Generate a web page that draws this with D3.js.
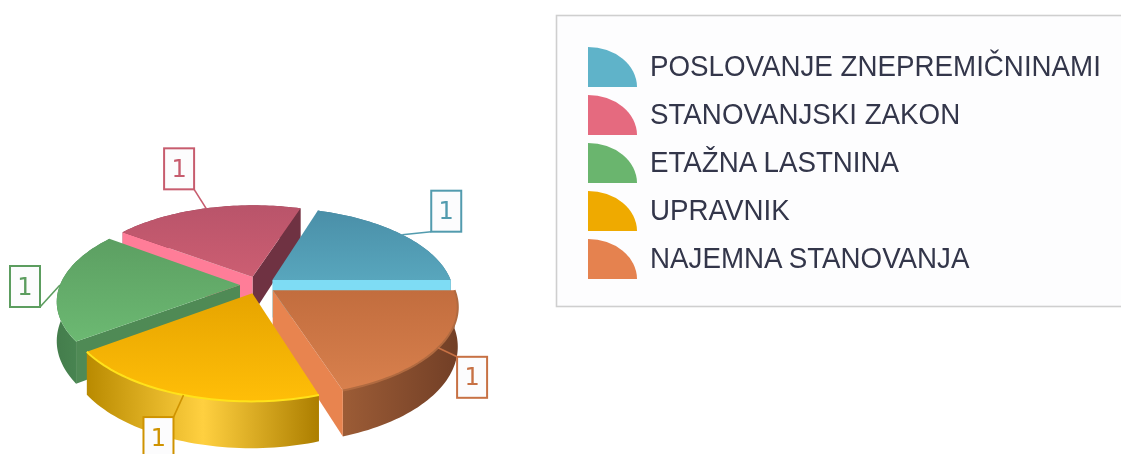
<!DOCTYPE html>
<html><head><meta charset="utf-8">
<script src="https://cdn.jsdelivr.net/npm/d3@7"></script>
<style>html,body{margin:0;background:#fff;overflow:hidden}svg{display:block;filter:blur(.55px)}</style>
</head><body><svg id="c" width="1121" height="454"></svg>
<script>
const categories=["POSLOVANJE ZNEPREMIČNINAMI","STANOVANJSKI ZAKON","ETAŽNA LASTNINA","UPRAVNIK","NAJEMNA STANOVANJA"];
const values=[1,1,1,1,1];
const baseColors=["#5fb3c9","#e56a7f","#6ab56e","#efaa00","#e5824f"];
const topStart=["#4a8fa8","#b9546a","#5c9f62","#e6a400","#c26d3e"];
const topEnd=["#58a6bd","#cc5e72","#6cb972","#ffbe08","#d8804d"];
const cutStart=["#7edcf4","#6f3242",null,null,"#e8844f"];
const cutEnd=[null,"#ff7d98","#4f8a55",null,null];
const wallStops=[["#3f7f95","#3f7f95"],["#8c3f50","#8c3f50"],["#447d4c","#4f9058"],["#b98a00","#ffd040","#ac7e00"],["#9c5c36","#723f26"]];
const rimColors=[null,null,null,"#ffe21a","#b06a40"];
const labelOffsets=[[29,-44],[-42,-60],[-50,-19],[-40,22],[19,9]];

const svg=d3.select("#c"), defs=svg.append("defs");
const cx=258, cy=285, R=180, explode=18, depth=38, persp=0.00095, squash=0.48;
const project=(X,Y,Z=0)=>{const s=1/(1-persp*Y);return [cx+X*s, cy+squash*Y*s+Z*s];};
const line=d3.line();
const arcs=d3.pie().sort(null).startAngle(0).endAngle(2*Math.PI)(values);
const color=d3.scaleOrdinal().domain(categories).range(baseColors);

const off=d=>{const m=(d.startAngle+d.endAngle)/2;return [explode*Math.cos(m),-explode*Math.sin(m)];};
const rimPt=(d,a,Z,r=R)=>{const [ox,oy]=off(d);return project(ox+r*Math.cos(a),oy-r*Math.sin(a),Z);};
const rim=(d,Z)=>d3.range(0,49).map(i=>rimPt(d,d.startAngle+(d.endAngle-d.startAngle)*i/48,Z));

function grad(id,stops,vertical){
  const g=defs.append("linearGradient").attr("id",id).attr("gradientUnits","objectBoundingBox")
    .attr("x1",0).attr("y1",0).attr("x2",vertical?0:1).attr("y2",vertical?1:0);
  stops.forEach((c,i)=>g.append("stop").attr("offset",i/(stops.length-1)).attr("stop-color",c));
}
const order=[1,0,2,4,3];
order.forEach(i=>{
  const d=arcs[i], g=svg.append("g");
  grad("w"+i,wallStops[i],false);
  grad("t"+i,[topStart[i],topEnd[i]],true);
  const top=rim(d,0), bottom=rim(d,depth).reverse();
  g.append("path").attr("d",line(top.concat(bottom))+"Z").attr("fill",`url(#w${i})`);
  const apexT=rimPt(d,0,0,0), apexB=rimPt(d,0,depth,0);
  [[d.startAngle,cutStart[i]],[d.endAngle,cutEnd[i]]].forEach(([a,c])=>{
    if(c) g.append("path").attr("d",line([apexT,rimPt(d,a,0),rimPt(d,a,depth),apexB])+"Z").attr("fill",c);
  });
  g.append("path").attr("d",line([apexT].concat(top))+"Z").attr("fill",`url(#t${i})`);
  if(rimColors[i]) g.append("path").attr("d",line(top)).attr("fill","none").attr("stroke",rimColors[i]).attr("stroke-width",2);
});

/* data labels */
const boxW=30, boxH=41;
const leaderEnd=[[0,1],[1,1],[1,1],[1,0],[0,0]];
arcs.forEach((d,i)=>{
  const m=(d.startAngle+d.endAngle)/2, p=rimPt(d,m,0), o=labelOffsets[i];
  const bx=p[0]+o[0], by=p[1]+o[1], c=d3.color(baseColors[i]).darker(.4).formatHex();
  svg.append("line").attr("x1",p[0]).attr("y1",p[1])
    .attr("x2",bx+boxW*leaderEnd[i][0]).attr("y2",by+boxH*leaderEnd[i][1]).attr("stroke",c).attr("stroke-width",1.6);
  svg.append("rect").attr("x",bx).attr("y",by).attr("width",boxW).attr("height",boxH).attr("fill","#fcfcfd").attr("stroke",c).attr("stroke-width",2);
  svg.append("text").attr("x",bx+boxW/2).attr("y",by+boxH/2+8).attr("text-anchor","middle")
    .attr("font-family","DejaVu Sans").attr("font-size",24).attr("fill",c).text(values[i]);
});

/* legend */
const legend=svg.append("g");
legend.append("rect").attr("x",556.5).attr("y",15.5).attr("width",600).attr("height",291)
  .attr("fill","#fdfdfe").attr("stroke","#cfcfcf").attr("stroke-width",1.6);
const rowY=d3.scalePoint().domain(categories).range([65,257]);
const quarter=d3.arc().innerRadius(0).outerRadius(40).startAngle(0).endAngle(Math.PI/2);
categories.forEach(c=>{
  const y=rowY(c);
  legend.append("path").attr("d",quarter()).attr("fill",color(c))
    .attr("transform",`translate(588,${y+22}) scale(1.225,1)`);
  legend.append("text").attr("transform",`translate(650,${y+11}) scale(.925,1)`)
    .attr("font-family","Liberation Sans").attr("font-size",30).attr("fill","#33364a").text(c);
});
</script></body></html>
